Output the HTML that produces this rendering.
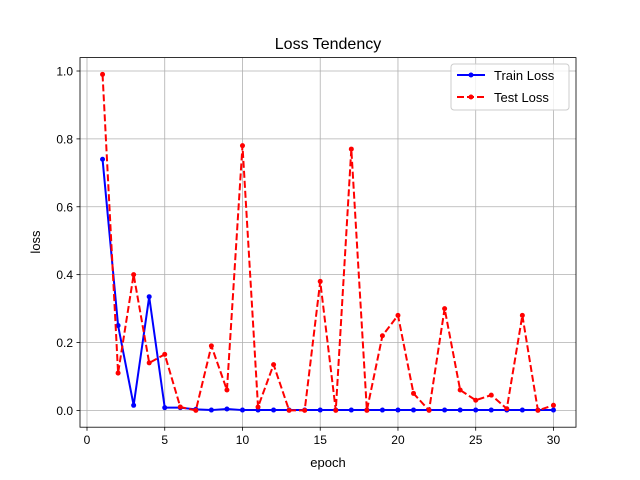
<!DOCTYPE html>
<html><head><meta charset="utf-8"><style>body{margin:0;background:#fff}svg{display:block;font-family:"Liberation Sans","DejaVu Sans",sans-serif}</style></head>
<body>
<svg id="chart" width="640" height="480">
<rect width="640" height="480" fill="#fff"/>
<g id="grid"></g><g id="axes"></g><g id="series"></g>
<text x="328" y="49" text-anchor="middle" font-size="16">Loss Tendency</text>
<text x="328" y="467" text-anchor="middle" font-size="13">epoch</text>
<text x="40" y="242" text-anchor="middle" font-size="13" transform="rotate(-90 40 242)">loss</text>
<g>
<rect x="451" y="64" width="118" height="46" rx="3" fill="#fff" fill-opacity="0.8" stroke="#ccc"/>
<g><line x1="457" y1="75" x2="485" y2="75" stroke="#0000ff" stroke-width="2"/><circle cx="471" cy="75" r="2.5" fill="#0000ff"/><text x="494" y="80" font-size="13">Train Loss</text></g>
<g><line x1="457" y1="97" x2="485" y2="97" stroke="#ff0000" stroke-width="2" stroke-dasharray="7,3"/><circle cx="471" cy="97" r="2.5" fill="#ff0000"/><text x="494" y="102" font-size="13">Test Loss</text></g>
</g>
</svg>
<script>
const epochs=[1,2,3,4,5,6,7,8,9,10,11,12,13,14,15,16,17,18,19,20,21,22,23,24,25,26,27,28,29,30];
const trainLoss=[0.74,0.25,0.015,0.335,0.008,0.008,0.003,0.001,0.004,0.001,0.001,0.001,0.001,0.001,0.001,0.001,0.001,0.001,0.001,0.001,0.001,0.001,0.001,0.001,0.001,0.001,0.001,0.001,0.001,0.001];
const testLoss=[0.99,0.11,0.40,0.14,0.165,0.01,0.0,0.19,0.06,0.78,0.01,0.135,0.0,0.0,0.38,0.0,0.77,0.0,0.22,0.28,0.05,0.0,0.30,0.06,0.03,0.045,0.005,0.28,0.0,0.015];
const xTicks=[0,5,10,15,20,25,30];
const yTicks=[0.0,0.2,0.4,0.6,0.8,1.0];
const L=80,R=576,T=57.6,B=427.2;
const xmin=-0.45,xmax=31.45,ymin=-0.0495,ymax=1.0395;
const sx=v=>L+(v-xmin)/(xmax-xmin)*(R-L);
const sy=v=>B-(v-ymin)/(ymax-ymin)*(B-T);
const NS="http://www.w3.org/2000/svg";
function mk(tag,attrs,parent){const e=document.createElementNS(NS,tag);for(const k in attrs)e.setAttribute(k,attrs[k]);parent.appendChild(e);return e;}
const grid=document.getElementById('grid'),axes=document.getElementById('axes'),series=document.getElementById('series');
xTicks.forEach(t=>{const x=sx(t);
 const g=mk('line',{x1:x,x2:x,y1:T,y2:B,stroke:'#b0b0b0','stroke-width':0.8},grid);
 
 
 mk('line',{x1:x,x2:x,y1:B,y2:B+3.5,stroke:'#000','stroke-width':0.8},axes);
 const tx=mk('text',{x:x,y:B+17,'text-anchor':'middle','font-size':'12'},axes);tx.textContent=t;
 
 });
yTicks.forEach(t=>{const y=sy(t);
 const g=mk('line',{x1:L,x2:R,y1:y,y2:y,stroke:'#b0b0b0','stroke-width':0.8},grid);
 
 
 mk('line',{x1:L-3.5,x2:L,y1:y,y2:y,stroke:'#000','stroke-width':0.8},axes);
 const tx=mk('text',{x:L-7,y:y+4.5,'text-anchor':'end','font-size':'12'},axes);tx.textContent=t.toFixed(1);
 
 });
const frame=mk('rect',{x:L,y:T,width:R-L,height:B-T,fill:'none',stroke:'#000','stroke-width':0.8},axes);


function draw(vals,color,dash,name){
 const pts=epochs.map((e,i)=>sx(e)+','+sy(vals[i])).join(' ');
 const pl=mk('polyline',{points:pts,fill:'none',stroke:color,'stroke-width':2,'stroke-dasharray':dash,'stroke-linejoin':'round'},series);
 
 
 epochs.forEach((e,i)=>{const c=mk('circle',{cx:sx(e),cy:sy(vals[i]),r:2.5,fill:color},series);
 
 });
}
draw(trainLoss,'#0000ff','none','train-loss');
draw(testLoss,'#ff0000','7,3','test-loss');
</script>
</body></html>
